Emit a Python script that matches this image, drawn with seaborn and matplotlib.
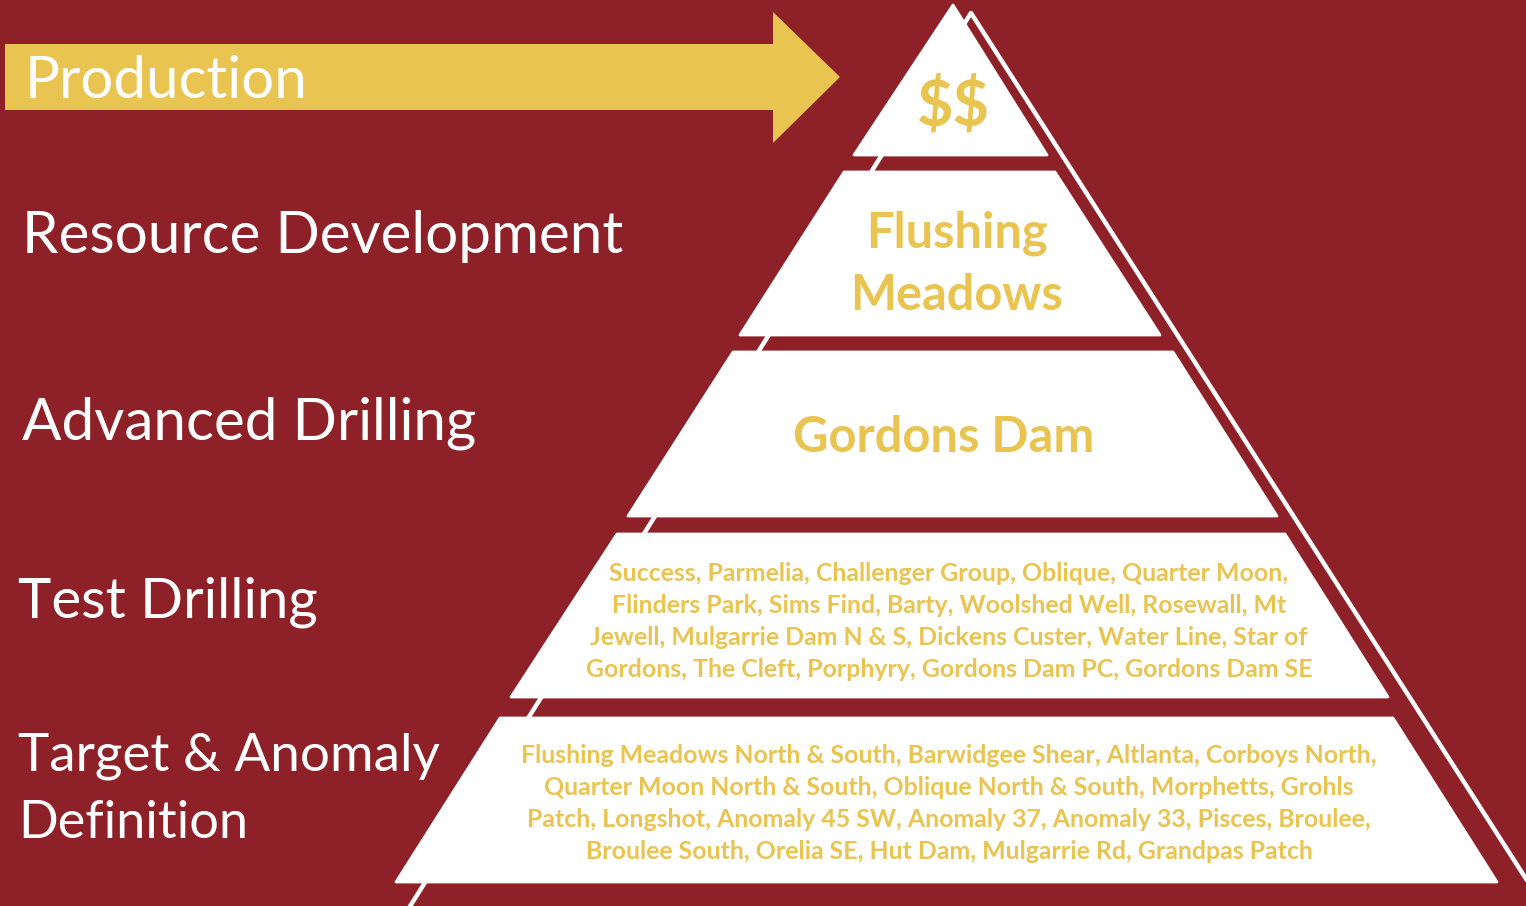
import matplotlib
matplotlib.use("Agg")
import matplotlib.pyplot as plt
from matplotlib.patches import Polygon
import seaborn as sns

'''DATA'''
stage_labels = ["Production", "Resource Development", "Advanced Drilling",
                "Test Drilling", "Target & Anomaly", "Definition"]
tier_labels = [
    ["$$"],
    ["Flushing", "Meadows"],
    ["Gordons Dam"],
    ["Success, Parmelia, Challenger Group, Oblique, Quarter Moon,",
     "Flinders Park, Sims Find, Barty, Woolshed Well, Rosewall, Mt",
     "Jewell, Mulgarrie Dam N & S, Dickens Custer, Water Line, Star of",
     "Gordons, The Cleft, Porphyry, Gordons Dam PC, Gordons Dam SE"],
    ["Flushing Meadows North & South, Barwidgee Shear, Altlanta, Corboys North,",
     "Quarter Moon North & South, Oblique North & South, Morphetts, Grohls",
     "Patch, Longshot, Anomaly 45 SW, Anomaly 37, Anomaly 33, Pisces, Broulee,",
     "Broulee South, Orelia SE, Hut Dam, Mulgarrie Rd, Grandpas Patch"],
]

'''LAYOUT (pixel coords, y down)'''
W, H = 1526, 906
bg = "#8E2027"
gold = "#EAC451"
white = "#FFFFFF"

apex = (953, 5)
tier_top = [5, 172, 352, 534, 718]
tier_bot = [155, 335, 516, 697, 882]
# tier corners: left/right at top, left/right at bottom
tier_top_l = [953, 844, 733, 617, 500]
tier_top_r = [953, 1055, 1173, 1285, 1393]
tier_bot_l = [854, 740, 628, 511, 396]
tier_bot_r = [1047, 1160, 1277, 1388, 1497]

# stage label positions: x left, baseline y, target width
stage_pos = [(25, 98, 282), (22, 253, 601), (22, 440, 454),
             (18, 618, 300), (18, 770, 422), (18, 838, 230)]
# tier text: centre x, baselines, target width of first line
tier_text_pos = [(953, [125], 73), (957, [248, 310], 182), (944, [452], 301),
                 (949, [581, 613, 645, 677], 680), (949, [763, 795, 827, 859], 855)]

'''PLOT'''
sns.set_style("white")
plt.rcParams['font.family'] = ['Lato', 'DejaVu Sans']
plt.rcParams['text.parse_math'] = False

fig = plt.figure(figsize=(W / 100, H / 100), dpi=100)
fig.patch.set_facecolor(bg)
ax = fig.add_axes([0, 0, 1, 1])
ax.set_xlim(0, W)
ax.set_ylim(H, 0)
ax.set_facecolor(bg)
ax.axis('off')

# production arrow
arrow = Polygon([(5, 44), (773, 44), (773, 12), (840, 77), (773, 143), (773, 110), (5, 110)],
                closed=True, facecolor=gold, edgecolor='none', zorder=2)
ax.add_patch(arrow)

# outline triangle behind the pyramid
o_x, o_y, s_l, s_r = 971, 13, 0.628, 0.641
ax.plot([o_x - s_l * (H + 20 - o_y), o_x, o_x + s_r * (H + 20 - o_y)],
        [H + 20, o_y, H + 20], color=white, lw=3.2,
        solid_joinstyle='round', zorder=1)

# pyramid tiers
for i in range(len(tier_top)):
    if i == 0:
        pts = [apex, (tier_bot_r[i], tier_bot[i]), (tier_bot_l[i], tier_bot[i])]
    else:
        pts = [(tier_top_l[i], tier_top[i]), (tier_top_r[i], tier_top[i]),
               (tier_bot_r[i], tier_bot[i]), (tier_bot_l[i], tier_bot[i])]
    ax.add_patch(Polygon(pts, closed=True, facecolor=white, edgecolor=white,
                         lw=2, joinstyle='round', zorder=3))

renderer = fig.canvas.get_renderer()


def fit(t, target):
    w = t.get_window_extent(renderer).width
    t.set_fontsize(t.get_fontsize() * target / w)
    return t.get_fontsize()


# stage labels
for lab, (x, y, tw) in zip(stage_labels, stage_pos):
    t = ax.text(x, y, lab, color=white, fontsize=50, ha='left', va='baseline',
                parse_math=False, zorder=5)
    fit(t, tw)

# tier labels
for lines, (cx, ys, tw) in zip(tier_labels, tier_text_pos):
    first = ax.text(cx, ys[0], lines[0], color=gold, fontsize=30, fontweight='bold',
                    ha='center', va='baseline', parse_math=False, zorder=5)
    fs = fit(first, tw)
    for line, y in zip(lines[1:], ys[1:]):
        ax.text(cx, y, line, color=gold, fontsize=fs, fontweight='bold',
                ha='center', va='baseline', parse_math=False, zorder=5)

plt.savefig("out.png", dpi=100, facecolor=bg)
